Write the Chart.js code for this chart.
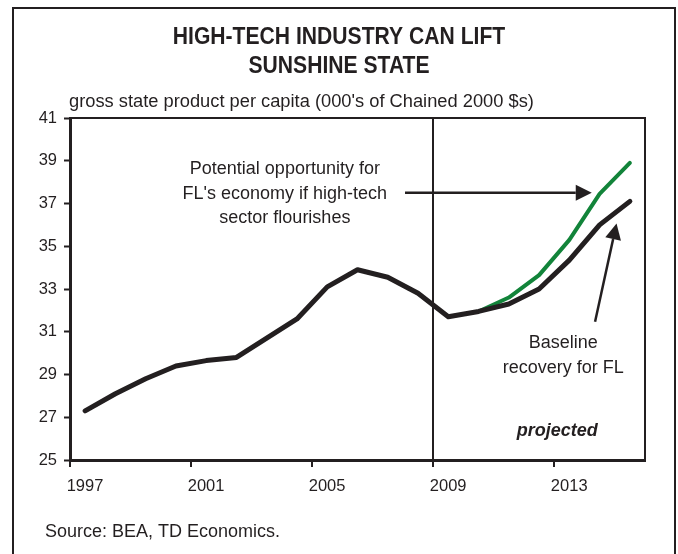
<!DOCTYPE html>
<html>
<head>
<meta charset="utf-8">
<script src="https://cdn.jsdelivr.net/npm/chart.js@4.4.1/dist/chart.umd.min.js"></script>
<style>
  html, body { margin: 0; padding: 0; background: #fff; }
</style>
</head>
<body>
<canvas id="chart" width="678" height="554"></canvas>
<script>
// Data (each point sits mid-year)
const years = [1997, 1998, 1999, 2000, 2001, 2002, 2003, 2004, 2005, 2006,
               2007, 2008, 2009, 2010, 2011, 2012, 2013, 2014, 2015];
const baseline = [27.3, 28.1, 28.8, 29.4, 29.65, 29.8, 30.7, 31.6, 33.1, 33.9,
                  33.55, 32.8, 31.7, 31.95, 32.3, 33.0, 34.35, 36.0, 37.1];
const highTech = [null, null, null, null, null, null, null, null, null, null,
                  null, null, null, 31.95, 32.6, 33.65, 35.3, 37.45, 38.9];
const xTickYears = [1997, 2001, 2005, 2009, 2013];
const projectionStart = 2009;

const titleLines = ['HIGH-TECH INDUSTRY CAN LIFT', 'SUNSHINE STATE'];
const axisTitle = "gross state product per capita (000's of Chained 2000 $s)";
const sourceText = 'Source: BEA, TD Economics.';

// Annotations in data coordinates
const notes = [
  { text: 'Potential opportunity for', x: 2004.1, y: 38.6 },
  { text: "FL's economy if high-tech", x: 2004.1, y: 37.44 },
  { text: 'sector flourishes', x: 2004.1, y: 36.32 },
  { text: 'Baseline', x: 2013.3, y: 30.47 },
  { text: 'recovery for FL', x: 2013.3, y: 29.3 },
  { text: 'projected', x: 2013.1, y: 26.36, bold: true }
];
const arrows = [
  { from: [2008.07, 37.5], to: [2014.24, 37.5] },
  { from: [2014.35, 31.47], to: [2015.06, 36.07] }
];

const FONT = '"Liberation Sans", Arial, Helvetica, sans-serif';
const INK = '#231f20';
const GREEN = '#12843a';

function drawArrow(ctx, x1, y1, x2, y2) {
  const ang = Math.atan2(y2 - y1, x2 - x1);
  const len = 16, half = 8;
  const bx = x2 - len * Math.cos(ang), by = y2 - len * Math.sin(ang);
  ctx.beginPath();
  ctx.moveTo(x1, y1);
  ctx.lineTo(bx, by);
  ctx.stroke();
  ctx.beginPath();
  ctx.moveTo(x2, y2);
  ctx.lineTo(bx + half * Math.sin(ang), by - half * Math.cos(ang));
  ctx.lineTo(bx - half * Math.sin(ang), by + half * Math.cos(ang));
  ctx.closePath();
  ctx.fill();
}

// Frame, titles, notes and arrows
const decor = {
  id: 'decor',
  afterDraw(chart) {
    const { ctx, chartArea: a, scales } = chart;
    const xs = scales.x, ys = scales.y;
    ctx.save();

    // outer box
    ctx.strokeStyle = INK;
    ctx.lineWidth = 2;
    ctx.strokeRect(13, 8, 662, 560);

    // top and right edges of the plot
    ctx.beginPath();
    ctx.moveTo(a.left, a.top);
    ctx.lineTo(a.right, a.top);
    ctx.lineTo(a.right, a.bottom);
    ctx.stroke();

    ctx.fillStyle = INK;
    ctx.textBaseline = 'alphabetic';

    // title, slightly condensed like the original
    ctx.save();
    ctx.textAlign = 'center';
    ctx.font = 'bold 24px ' + FONT;
    ctx.scale(0.88, 1);
    ctx.fillText(titleLines[0], 339 / 0.88, 44);
    ctx.fillText(titleLines[1], 339 / 0.88, 73);
    ctx.restore();

    // axis title
    ctx.textAlign = 'left';
    ctx.font = '18.3px ' + FONT;
    ctx.fillText(axisTitle, a.left - 1, 107);

    // source
    ctx.font = '18px ' + FONT;
    ctx.fillText(sourceText, 45, 537);

    // notes
    ctx.textAlign = 'center';
    ctx.textBaseline = 'middle';
    notes.forEach(n => {
      ctx.font = (n.bold ? 'italic bold ' : '') + '18px ' + FONT;
      ctx.fillText(n.text, xs.getPixelForValue(n.x), ys.getPixelForValue(n.y));
    });

    // arrows
    ctx.lineWidth = 2.5;
    arrows.forEach(ar => {
      drawArrow(ctx,
        xs.getPixelForValue(ar.from[0]), ys.getPixelForValue(ar.from[1]),
        xs.getPixelForValue(ar.to[0]), ys.getPixelForValue(ar.to[1]));
    });

    ctx.restore();
  }
};

const toPoints = vals => years.map((yr, i) => ({ x: yr + 0.5, y: vals[i] }));

new Chart(document.getElementById('chart'), {
  type: 'line',
  data: {
    datasets: [
      {
        label: 'Baseline recovery for FL',
        data: toPoints(baseline),
        borderColor: INK,
        borderWidth: 5,
        pointRadius: 0,
        tension: 0,
        borderCapStyle: 'round',
        borderJoinStyle: 'round'
      },
      {
        label: 'High-tech sector flourishes',
        data: toPoints(highTech),
        borderColor: GREEN,
        borderWidth: 4,
        pointRadius: 0,
        tension: 0,
        borderCapStyle: 'round',
        borderJoinStyle: 'round'
      }
    ]
  },
  options: {
    responsive: false,
    animation: false,
    layout: { padding: { left: 14, right: 33, top: 118, bottom: 0 } },
    plugins: {
      legend: { display: false },
      tooltip: { enabled: false },
      title: { display: false }
    },
    scales: {
      x: {
        type: 'linear',
        min: 1997,
        max: 2016,
        afterBuildTicks: s => { s.ticks = xTickYears.map(v => ({ value: v })); },
        afterFit: s => { s.height = 94; },
        grid: {
          drawOnChartArea: true,
          color: c => (c.tick && c.tick.value === projectionStart) ? INK : 'rgba(0,0,0,0)',
          lineWidth: 2,
          tickLength: 7,
          tickColor: INK,
          tickWidth: 2
        },
        border: { display: true, color: INK, width: 3 },
        ticks: {
          color: INK,
          font: { family: FONT, size: 16.5 },
          padding: 10,
          labelOffset: 15,   // labels sit mid-year, ticks at year boundaries
          maxRotation: 0,
          autoSkip: false,
          callback: v => String(v)
        }
      },
      y: {
        min: 25,
        max: 41,
        afterFit: s => { s.width = 56; },
        grid: {
          drawOnChartArea: false,
          tickLength: 6,
          tickColor: INK,
          tickWidth: 2
        },
        border: { display: true, color: INK, width: 3 },
        ticks: {
          stepSize: 2,
          color: INK,
          font: { family: FONT, size: 16.5 },
          padding: 7
        }
      }
    }
  },
  plugins: [decor]
});
</script>
</body>
</html>
